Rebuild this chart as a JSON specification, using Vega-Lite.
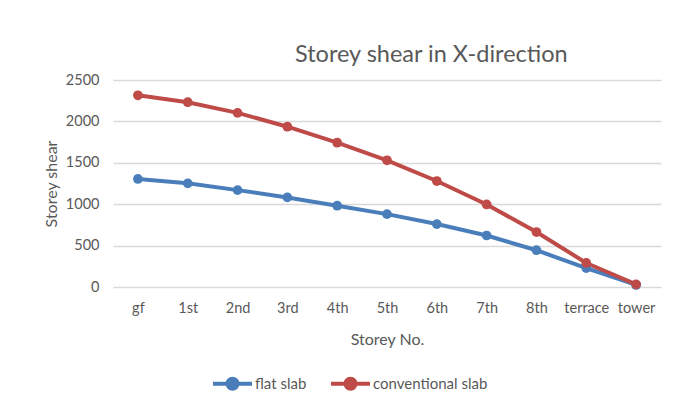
{
  "$schema": "https://vega.github.io/schema/vega-lite/v6.json",
  "width": 548,
  "height": 207,
  "autosize": "none",
  "padding": {"left": 113, "top": 80, "right": 22, "bottom": 119},
  "background": "white",
  "config": {"view": {"stroke": null}},
  "title": {
    "text": "Storey shear in X-direction",
    "font": "Lato",
    "fontSize": 23.5,
    "fontWeight": "normal",
    "color": "#595959",
    "anchor": "start",
    "frame": "group",
    "dx": 182,
    "offset": 6
  },
  "data": {
    "values": [
      {"storey": "gf", "series": "flat slab", "shear": 1305},
      {"storey": "1st", "series": "flat slab", "shear": 1252},
      {"storey": "2nd", "series": "flat slab", "shear": 1170},
      {"storey": "3rd", "series": "flat slab", "shear": 1082},
      {"storey": "4th", "series": "flat slab", "shear": 982},
      {"storey": "5th", "series": "flat slab", "shear": 880},
      {"storey": "6th", "series": "flat slab", "shear": 760},
      {"storey": "7th", "series": "flat slab", "shear": 622},
      {"storey": "8th", "series": "flat slab", "shear": 444},
      {"storey": "terrace", "series": "flat slab", "shear": 228},
      {"storey": "tower", "series": "flat slab", "shear": 25},
      {"storey": "gf", "series": "conventional slab", "shear": 2315},
      {"storey": "1st", "series": "conventional slab", "shear": 2232},
      {"storey": "2nd", "series": "conventional slab", "shear": 2103},
      {"storey": "3rd", "series": "conventional slab", "shear": 1936},
      {"storey": "4th", "series": "conventional slab", "shear": 1743},
      {"storey": "5th", "series": "conventional slab", "shear": 1530},
      {"storey": "6th", "series": "conventional slab", "shear": 1280},
      {"storey": "7th", "series": "conventional slab", "shear": 997},
      {"storey": "8th", "series": "conventional slab", "shear": 664},
      {"storey": "terrace", "series": "conventional slab", "shear": 290},
      {"storey": "tower", "series": "conventional slab", "shear": 32}
    ]
  },
  "encoding": {
    "x": {
      "field": "storey",
      "type": "ordinal",
      "sort": ["gf", "1st", "2nd", "3rd", "4th", "5th", "6th", "7th", "8th", "terrace", "tower"],
      "scale": {"type": "point", "padding": 0.5},
      "axis": {
        "title": "Storey No.",
        "titleFont": "Lato",
        "titleFontSize": 16,
        "titleFontWeight": "normal",
        "titleColor": "#595959",
        "titlePadding": 17,
        "labelFont": "Lato",
        "labelFontSize": 14.5,
        "labelColor": "#595959",
        "labelAngle": 0,
        "labelPadding": 14,
        "ticks": false,
        "domain": false,
        "grid": false
      }
    },
    "y": {
      "field": "shear",
      "type": "quantitative",
      "scale": {"domain": [0, 2500], "nice": false},
      "axis": {
        "title": "Storey shear",
        "titleFont": "Lato",
        "titleFontSize": 16,
        "titleFontWeight": "normal",
        "titleColor": "#595959",
        "titlePadding": 6,
        "labelFont": "Lato",
        "labelFontSize": 14.5,
        "labelColor": "#595959",
        "labelPadding": 14,
        "format": "d",
        "values": [0, 500, 1000, 1500, 2000, 2500],
        "ticks": false,
        "domain": false,
        "grid": true,
        "gridColor": "#d9d9d9",
        "gridWidth": 1.3
      }
    },
    "color": {
      "field": "series",
      "type": "nominal",
      "sort": ["flat slab", "conventional slab"],
      "scale": {"domain": ["flat slab", "conventional slab"], "range": ["#4A7EBB", "#BE4B48"]},
      "legend": {
        "title": null,
        "orient": "none",
        "direction": "horizontal",
        "legendX": 98,
        "legendY": 282,
        "symbolType": "M-1,0H1M-0.26,0A0.26,0.26 0 1,0 0.26,0A0.26,0.26 0 1,0 -0.26,0Z",
        "symbolSize": 1521,
        "symbolStrokeWidth": 4,
        "labelFont": "Lato",
        "labelFontSize": 15,
        "labelColor": "#595959",
        "labelOffset": 1,
        "columnPadding": 16
      }
    }
  },
  "layer": [
    {"mark": {"type": "line", "strokeWidth": 4}},
    {"mark": {"type": "point", "filled": true, "size": 95, "opacity": 1}}
  ]
}
